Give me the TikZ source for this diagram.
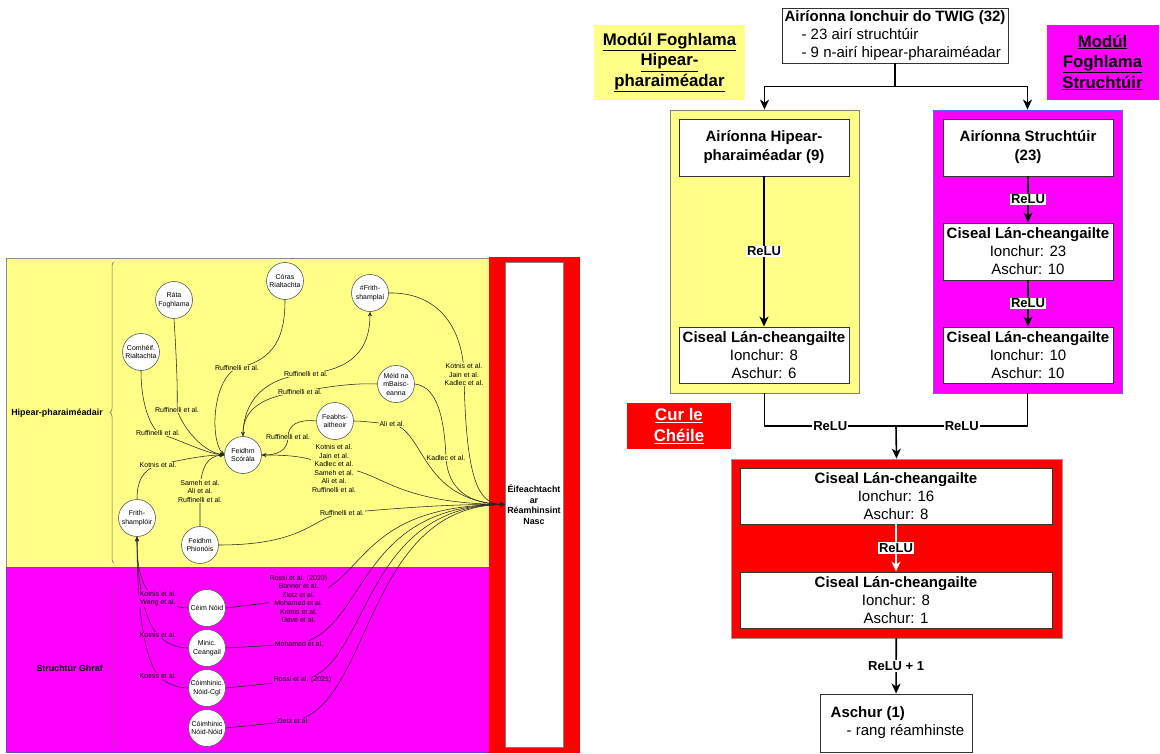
\documentclass[tikz,border=0pt]{standalone}
\usepackage{fontspec}
\setmainfont{Liberation Sans}
\usetikzlibrary{arrows.meta,decorations.pathreplacing}
\pgfdeclarelayer{panels}
\pgfdeclarelayer{wires}
\pgfsetlayers{panels,wires,main}

\definecolor{hyp}{RGB}{255,255,136}
\definecolor{mag}{RGB}{255,0,255}
\definecolor{fuse}{RGB}{255,0,0}
\definecolor{magedge}{RGB}{90,100,255}
\definecolor{magline}{RGB}{120,60,200}

\newcommand{\reffont}{\fontsize{7}{8.5}\selectfont}
\newcommand{\bigfont}{\fontsize{15}{18}\selectfont}

\begin{document}
\begin{tikzpicture}[x=1pt,y=-1pt,
  feat/.style={circle,draw=black!65,fill=white,line width=0.6pt,minimum size=37pt,inner sep=0pt,align=center,font=\reffont},
  cite/.style={fill=hyp,inner sep=0.6pt,align=center,font=\reffont},
  citem/.style={cite,fill=mag},
  link/.style={draw=black!85,line width=0.55pt},
  linkto/.style={link,-{Stealth[length=4.5pt,width=4pt]}},
  layerbox/.style={draw=black!80,fill=white,line width=0.9pt,align=center,font=\bigfont,inner sep=0pt},
  flow/.style={line width=1.6pt,-{Stealth[length=10pt,width=9pt,inset=3pt]}},
  relu/.style={fill=white,text=black,inner sep=1.2pt,font=\bfseries\fontsize{13}{15}\selectfont},
  modtitle/.style={align=center,inner sep=0pt,font=\bfseries\fontsize{16.8}{20.5}\selectfont},
  section/.style={anchor=east,inner sep=0pt,font=\bfseries\fontsize{8.9}{10}\selectfont},
  bracket/.style={draw=black!60,line width=0.5pt,decorate,decoration={brace,amplitude=4pt}},
]
\useasboundingbox (0,0) rectangle (1160,754);

% ---------- panels of the feature map ----------
\begin{pgfonlayer}{panels}
  \fill[white] (0,0) rectangle (1160,754);
  \draw[fill=hyp,draw=black!45,line width=0.6pt] (6,258) rectangle (489,567);
  \draw[fill=mag,draw=magline,line width=0.6pt] (6,567) rectangle (489,752);
  \fill[fuse] (489,257) rectangle (580,753);
\end{pgfonlayer}

\node[draw=black!50,fill=white,line width=0.6pt,minimum width=58pt,minimum height=485pt,
      inner sep=0pt,align=center,font=\bfseries\fontsize{8.9}{10.8}\selectfont]
      (eff) at (534,504.5) {Éifeachtacht\\ar\\Réamhinsint\\Nasc};

\node[section] (hyplbl) at (103,413) {Hipear-pharaiméadair};
\node[section] (strlbl) at (103,668) {Struchtúr Ghraf};
\draw[bracket] (114,563) -- (114,262);
\draw[bracket] (114,747) -- (114,590);

% hyper-parameter features
\node[feat] (rata)  at (174,300) {Ráta\\Foghlama};
\node[feat] (coras) at (285,281) {Córas\\Rialtachta};
\node[feat] (comh)  at (141,352) {Comhéif.\\Rialtachta};
\node[feat] (frsp)  at (370,293) {\#Frith-\\shamplaí};
\node[feat] (meid)  at (396,384) {Méid na\\mBaisc-\\eanna};
\node[feat] (feabh) at (335,421) {Feabhs-\\aitheoir};
\node[feat] (score) at (243,455) {Feidhm\\Scórála};
\node[feat] (adv)   at (137,518) {Frith-\\shamplóir};
\node[feat] (pen)   at (200,545) {Feidhm\\Phionóis};
% graph-structure features
\node[feat] (deg)   at (207,608) {Céim Nóid};
\node[feat] (freq)  at (207,648) {Minic.\\Ceangail};
\node[feat] (cne)   at (207,688) {Cóimhinic.\\Nóid-Cgl};
\node[feat] (cnn)   at (207,728) {Cóimhinic\\Nóid-Nóid};

% citations on the links
\node[cite] (c1)  at (237,368) {Ruffinelli et al.};
\node[cite] (c2)  at (177,410) {Ruffinelli et al.};
\node[cite] (c3)  at (158,433) {Ruffinelli et al.};
\node[cite] (c4)  at (158,465) {Kotnis et al.};
\node[cite] (c5)  at (200,491) {Sameh et al.\\Ali et al.\\Ruffinelli et al.};
\node[cite] (c6)  at (306,374) {Ruffinelli et al.};
\node[cite] (c7)  at (300,392) {Ruffinelli et al.};
\node[cite] (c8)  at (288,437) {Ruffinelli et al.};
\node[cite] (c9)  at (334,468.5) {Kotnis et al.\\Jain et al.\\Kadlec et al.\\Sameh et al.\\Ali et al.\\Ruffinelli et al.};
\node[cite] (c10) at (464,374.5) {Kotnis et al.\\Jain et al.\\Kadlec et al.};
\node[cite] (c11) at (446,458) {Kadlec et al.};
\node[cite] (c12) at (392,424) {Ali et al.};
\node[cite] (c13) at (342,513) {Ruffinelli et al.};
\node[citem] (c14) at (298.5,599) {Rossi et al. (2020)\\Bonner et al.\\Zietz et al.\\Mohamed et al.\\Kotnis et al.\\Dave et al.};
\node[citem] (c15) at (299,644) {Mohamed et al.};
\node[citem] (c16) at (302.6,680) {Rossi et al. (2021)};
\node[citem] (c17) at (293,721) {Zietz et al.};
\node[citem] (c18) at (158,598.5) {Kotnis et al.\\Wang et al.};
\node[citem] (c19) at (158,635) {Kotnis et al.};
\node[citem] (c20) at (158,676) {Kotnis et al.};

\begin{pgfonlayer}{wires}
  % links into the scoring function
  \draw[linkto] (coras.south) .. controls (285,335) and (276,360) .. (c1.center)
                .. controls (212,380) and (210,440) .. (score.west);
  \draw[linkto] (rata.south) .. controls (176,350) and (178,390) .. (c2.center)
                .. controls (185,432) and (205,452) .. (score.west);
  \draw[linkto] (comh.south) .. controls (141,400) and (148,422) .. (c3.center)
                .. controls (185,442) and (205,453) .. (score.west);
  \draw[linkto] (adv.north) .. controls (137,482) and (142,470) .. (c4.center)
                .. controls (180,460) and (205,455) .. (score.west);
  \draw[linkto] (pen.north) -- (c5.center)
                .. controls (201,466) and (208,456) .. (score.west);
  \draw[linkto] (score.north) .. controls (243,400) and (265,378) .. (c6.center)
                .. controls (352,370) and (370,350) .. (frsp.south);
  \draw[linkto] (meid.west) .. controls (355,383) and (330,386) .. (c7.center)
                .. controls (262,396) and (243,410) .. (score.north);
  \draw[linkto] (feabh.west) .. controls (298,419) and (288,425) .. (c8.center)
                .. controls (288,452) and (275,455) .. (score.east);
  % links into the outcome
  \draw[linkto] (score.east) .. controls (290,455) and (310,456) .. (c9.center)
                .. controls (380,466) and (385,503) .. (eff.west);
  \draw[linkto] (frsp.east) .. controls (440,292) and (463,330) .. (c10.center)
                .. controls (466,480) and (478,504) .. (eff.west);
  \draw[linkto] (meid.east) .. controls (432,386) and (444,405) .. (c11.center)
                .. controls (448,490) and (470,504) .. (eff.west);
  \draw[linkto] (feabh.east) .. controls (365,421) and (375,423) .. (c12.center)
                .. controls (425,430) and (420,500) .. (eff.west);
  \draw[linkto] (pen.east) .. controls (305,545) and (312,518) .. (c13.center)
                .. controls (400,508) and (450,504) .. (eff.west);
  \draw[linkto] (deg.east) -- (c14.center) .. controls (368,588) and (352,506) .. (eff.west);
  \draw[linkto] (freq.east) -- (c15.center) .. controls (368,628) and (356,506) .. (eff.west);
  \draw[linkto] (cne.east) -- (c16.center) .. controls (370,668) and (360,506) .. (eff.west);
  \draw[linkto] (cnn.east) -- (c17.center) .. controls (372,708) and (364,506) .. (eff.west);
  % links into the adversarial sampler
  \draw[linkto] (deg.west) .. controls (180,608) and (172,606) .. (c18.center)
                .. controls (140,590) and (137,565) .. (adv.south);
  \draw[linkto] (freq.west) .. controls (175,648) and (165,642) .. (c19.center)
                .. controls (143,620) and (137,575) .. (adv.south);
  \draw[linkto] (cne.west) .. controls (175,688) and (165,682) .. (c20.center)
                .. controls (140,650) and (137,585) .. (adv.south);
\end{pgfonlayer}

% ---------- network ----------
\node[draw=black!80,fill=white,line width=0.9pt,minimum width=226pt,minimum height=55pt,
      inner sep=0pt,align=left,font=\bigfont] (twig) at (895,35.5)
      {\textbf{Airíonna Ionchuir do TWIG (32)}\\\hspace*{17pt}- 23 airí struchtúir\\\hspace*{17pt}- 9 n-airí hipear-pharaiméadar};

\node[fill=hyp,minimum width=151pt,minimum height=75pt,modtitle] (hyptag) at (669.5,62.5)
      {\underline{Modúl Foghlama}\\\underline{Hipear-}\\\underline{pharaiméadar}};
\node[fill=mag,minimum width=112pt,minimum height=75pt,modtitle] (strtag) at (1102.5,62.5)
      {\underline{Modúl}\\\underline{Foghlama}\\\underline{Struchtúir}};
\node[fill=fuse,minimum width=104pt,minimum height=46pt,modtitle,text=white] (fusetag) at (679,426)
      {\underline{Cur le}\\\underline{Chéile}};

% hyper-parameter branch
\node[draw=black!50,fill=hyp,line width=0.8pt,minimum width=189pt,minimum height=283pt] (hypbox) at (764.5,251.5) {};
\node[layerbox,minimum width=170pt,minimum height=57pt,font=\bfseries\fontsize{15}{19}\selectfont] (h1) at (764,147.5)
      {Airíonna Hipear-\\pharaiméadar (9)};
\node[layerbox,minimum width=170pt,minimum height=56pt] (h2) at (764,355)
      {\textbf{Ciseal Lán-cheangailte}\\Ionchur: 8\\Aschur: 6};

% structure branch
\node[draw=magedge,fill=mag,line width=0.9pt,minimum width=189pt,minimum height=283pt] (strbox) at (1027.5,251.5) {};
\node[layerbox,minimum width=170pt,minimum height=57pt,font=\bfseries\fontsize{15}{19}\selectfont] (s1) at (1028,147.5)
      {Airíonna Struchtúir\\(23)};
\node[layerbox,minimum width=170pt,minimum height=57pt] (s2) at (1028,251.5)
      {\textbf{Ciseal Lán-cheangailte}\\Ionchur: 23\\Aschur: 10};
\node[layerbox,minimum width=170pt,minimum height=56pt] (s3) at (1028,355)
      {\textbf{Ciseal Lán-cheangailte}\\Ionchur: 10\\Aschur: 10};

% fusion block
\node[draw=black!40,fill=fuse,line width=0.8pt,minimum width=331pt,minimum height=179pt] (fusebox) at (896.5,548.5) {};
\node[layerbox,minimum width=312pt,minimum height=56pt] (f1) at (896,496)
      {\textbf{Ciseal Lán-cheangailte}\\Ionchur: 16\\Aschur: 8};
\node[layerbox,minimum width=312pt,minimum height=56pt] (f2) at (896,600)
      {\textbf{Ciseal Lán-cheangailte}\\Ionchur: 8\\Aschur: 1};

\node[draw=black!80,fill=white,line width=0.9pt,minimum width=152pt,minimum height=58pt,
      inner sep=0pt,align=left,font=\bigfont] (out) at (896,723)
      {\hspace*{3pt}\textbf{Aschur (1)}\\\hspace*{19pt}- rang réamhinste};

\coordinate (join) at (896,426);

\draw[flow] (twig.south) -- ++(0,23) -| (hypbox.north);
\draw[flow] (twig.south) -- ++(0,23) -| (strbox.north);
\draw[flow] (h1) -- node[relu]{ReLU} (h2);
\draw[flow] (s1) -- node[relu]{ReLU} (s2);
\draw[flow] (s2) -- node[relu]{ReLU} (s3);
\draw[line width=1.6pt] (hypbox.south) |- node[pos=0.75,relu]{ReLU} (join);
\draw[line width=1.6pt] (strbox.south) |- node[pos=0.75,relu]{ReLU} (join);
\draw[flow] (join) -- (fusebox.north);
\draw[flow,white] (f1) -- node[relu]{ReLU} (f2);
\draw[flow] (fusebox) -- node[relu]{ReLU + 1} (out);
\end{tikzpicture}
\end{document}
